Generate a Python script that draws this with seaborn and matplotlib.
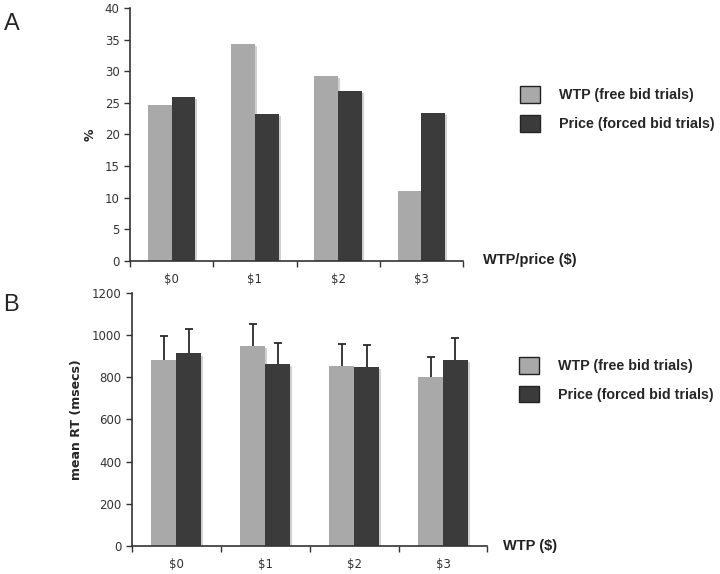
import numpy as np
import pandas as pd
import matplotlib
matplotlib.use("Agg")
import matplotlib.pyplot as plt
import matplotlib.patheffects as pe
from matplotlib.patches import Patch
import seaborn as sns

sns.set_style("white")

categories = ["$0", "$1", "$2", "$3"]
groups = ["WTP (free bid trials)", "Price (forced bid trials)"]

# panel A: % of trials
pct_wtp = [24.7, 34.3, 29.3, 11.0]
pct_price = [25.9, 23.3, 26.9, 23.4]

# panel B: mean RT and upper error
rt_wtp = [881, 948, 856, 802]
rt_price = [913, 862, 851, 881]
err_wtp = [114, 104, 101, 95]
err_price = [117, 101, 104, 106]

colors = ["#a9a9a9", "#3b3b3b"]

df_a = pd.DataFrame({
    "cat": categories * 2,
    "group": [groups[0]] * 4 + [groups[1]] * 4,
    "val": pct_wtp + pct_price,
})
df_b = pd.DataFrame({
    "cat": categories * 2,
    "group": [groups[0]] * 4 + [groups[1]] * 4,
    "val": rt_wtp + rt_price,
    "err": err_wtp + err_price,
})

fig = plt.figure(figsize=(7.2, 5.74), dpi=100)
ax_a = fig.add_axes([0.1806, 0.5453, 0.4625, 0.4408])
ax_b = fig.add_axes([0.183, 0.0488, 0.494, 0.4408])

shadow = [pe.withSimplePatchShadow(offset=(1.5, -1.5), shadow_rgbFace="0.82", alpha=1)]


def draw(ax, df, width, ylim, yticks, ylabel, xlabel, xlab_pos, leg_pos, with_err):
    sns.barplot(data=df, x="cat", y="val", hue="group", order=categories,
                hue_order=groups, palette=colors, width=width, saturation=1,
                errorbar=None, legend=False, ax=ax, linewidth=0)
    for p in ax.patches:
        p.set_path_effects(shadow)
        p.set_zorder(2)
    if with_err:
        for cont, g in zip(ax.containers, groups):
            sub = df[df.group == g].set_index("cat").loc[categories]
            xs = np.array([b.get_x() + b.get_width() / 2 for b in cont])
            tops = sub.val.values + sub.err.values
            ax.vlines(xs, sub.val.values, tops, color="#2a2a2a", lw=1.3, zorder=1)
            ax.hlines(tops, xs - 0.045, xs + 0.045, color="#2a2a2a", lw=1.3, zorder=1)
    ax.set_xlim(-0.5, 3.5)
    ax.set_ylim(*ylim)
    ax.set_yticks(yticks)
    ax.set_xticks(range(4))
    ax.set_xticklabels(categories)
    ax.set_xticks(np.arange(-0.5, 4.0, 1.0), minor=True)
    ax.tick_params(axis="x", which="major", length=0, pad=9, labelsize=8.5,
                   labelcolor="#333333")
    ax.tick_params(axis="x", which="minor", length=4, width=1, color="#333333",
                   direction="out", bottom=True)
    ax.tick_params(axis="y", length=4, width=1, color="#333333", left=True,
                   labelsize=8.5, labelcolor="#333333")
    for s in ["top", "right"]:
        ax.spines[s].set_visible(False)
    for s in ["left", "bottom"]:
        ax.spines[s].set_color("#333333")
        ax.spines[s].set_linewidth(1.2)
        ax.spines[s].set_zorder(3)
    ax.set_xlabel("")
    ax.set_ylabel(ylabel, fontsize=9, fontweight="bold", family="DejaVu Sans",
                  labelpad=6)
    fig.text(xlab_pos[0], xlab_pos[1], xlabel, fontsize=10.5, fontweight="bold",
             family="Liberation Sans", va="center", ha="left", color="#222222")
    handles = [Patch(facecolor=c, edgecolor="#222222", linewidth=1) for c in colors]
    ax.legend(handles, groups, loc="upper left", bbox_to_anchor=leg_pos,
              frameon=False, handlelength=1.4, handleheight=1.4,
              handletextpad=1.3, labelspacing=0.85, borderpad=0, borderaxespad=0,
              prop={"family": "Liberation Sans", "weight": "bold", "size": 10.3})


draw(ax_a, df_a, 0.57, (0, 40), range(0, 41, 5), "%", "WTP/price ($)",
     (483 / 720, 1 - 260 / 574), (1.171, 0.69), False)
draw(ax_b, df_b, 0.56, (0, 1200), range(0, 1201, 200), "mean RT (msecs)", "WTP ($)",
     (503 / 720, 1 - 546 / 574), (1.09, 0.747), True)

fig.text(0.005, 0.959, "A", fontsize=17, family="Liberation Sans", va="center")
fig.text(0.005, 0.468, "B", fontsize=17, family="Liberation Sans", va="center")

fig.savefig("out.png", dpi=100, facecolor="white")
